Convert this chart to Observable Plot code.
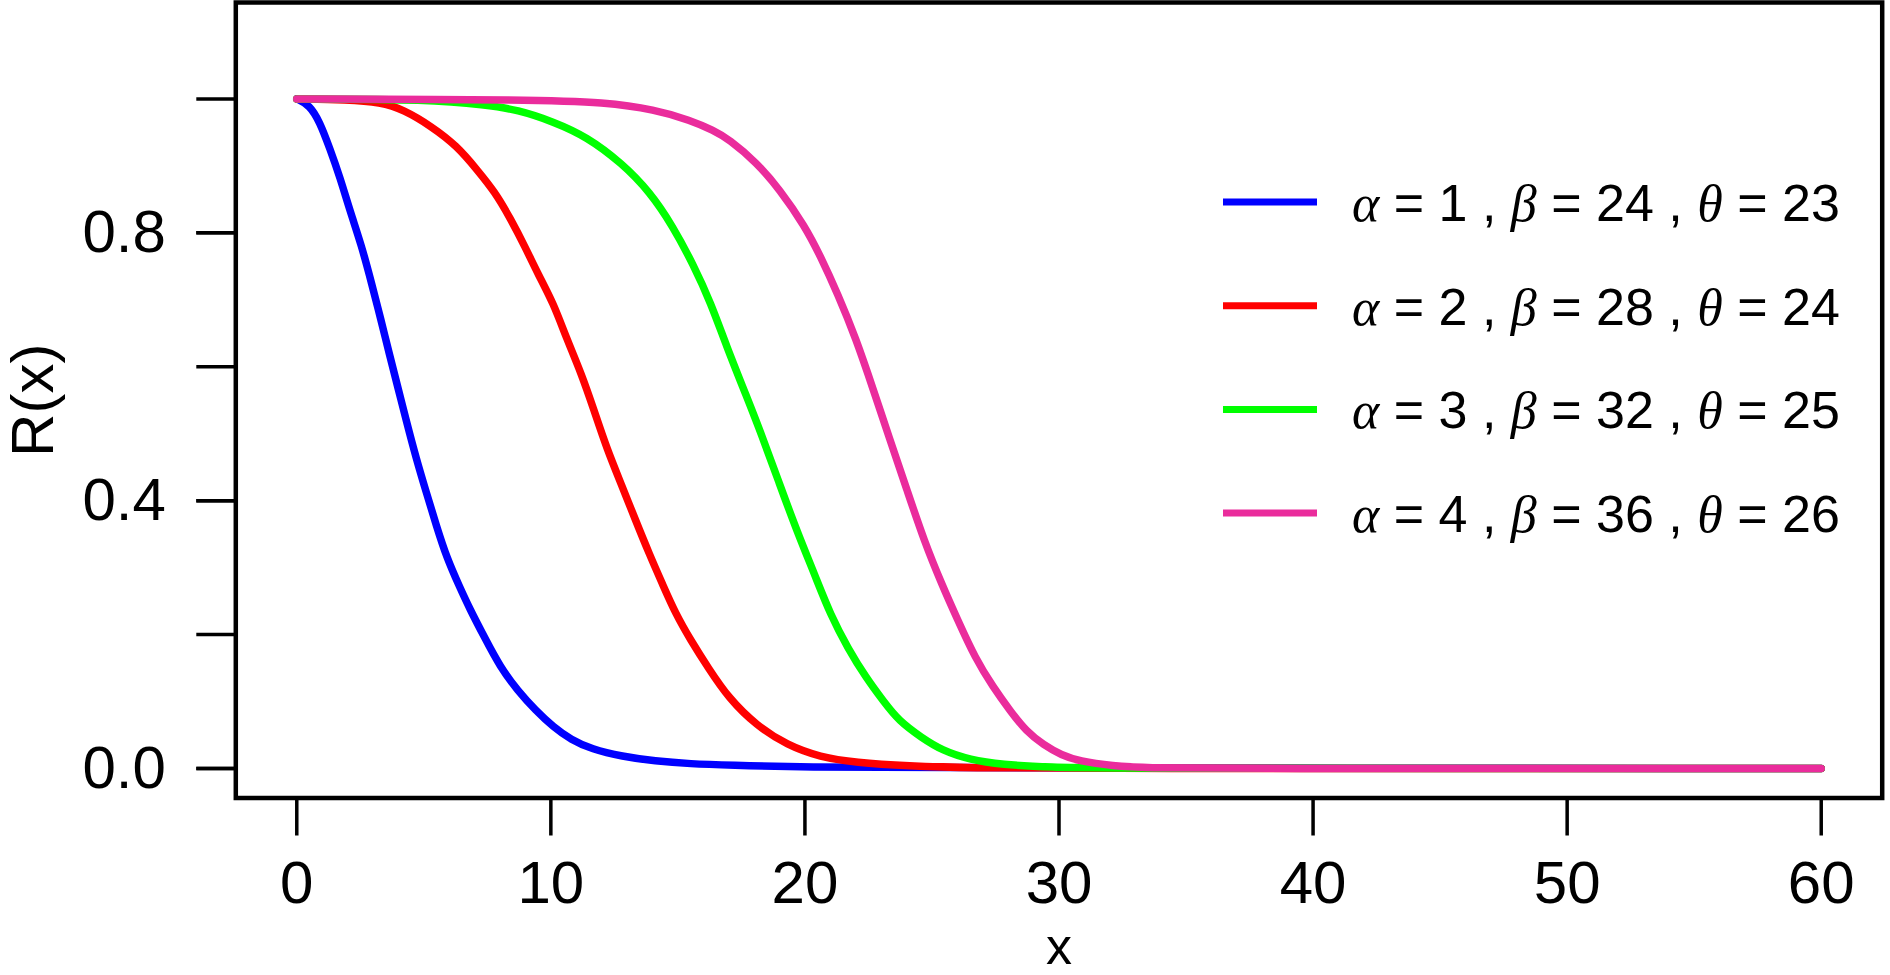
<!DOCTYPE html>
<html>
<head>
<meta charset="utf-8">
<script src="https://cdn.jsdelivr.net/npm/d3@7"></script>
<script src="https://cdn.jsdelivr.net/npm/@observablehq/plot@0.6"></script>
<style>
  html, body { margin: 0; padding: 0; background: #ffffff; }
  #chart { width: 1890px; height: 975px; overflow: hidden; }
</style>
</head>
<body>
<div id="chart"></div>
<script>
// ---- data ----
const xTicks = [0, 10, 20, 30, 40, 50, 60];
const yTicks = [0, 0.2, 0.4, 0.6, 0.8, 1.0];
const yLabelTicks = [0, 0.4, 0.8];

const alphas = [1, 2, 3, 4];
const betas = [24, 28, 32, 36];
const thetas = [23, 24, 25, 26];
const seriesColors = ["#0000FF", "#FF0000", "#00FF00", "#EA2C9C"];

const blueX = [0, 0.5, 0.9, 1.3, 1.7, 2.1, 2.55, 2.95, 3.3, 3.65, 4.0, 4.3, 4.7, 5.1, 5.5, 5.9, 6.4, 6.8, 7.4, 8.0, 8.7, 9.4, 10.1, 10.8, 11.6, 12.8, 14.1, 15.5, 17, 20, 25, 60];
const blueR = [1, 0.991, 0.966, 0.926, 0.883, 0.832, 0.781, 0.724, 0.672, 0.618, 0.566, 0.521, 0.463, 0.412, 0.362, 0.315, 0.272, 0.239, 0.195, 0.152, 0.116, 0.087, 0.062, 0.043, 0.029, 0.018, 0.011, 0.007, 0.005, 0.002, 0.001, 0];

const redX = [0, 2, 3.3, 4.2, 5.3, 6.3, 7.1, 7.8, 8.4, 9.0, 9.5, 10.1, 10.6, 11.2, 11.7, 12.2, 12.8, 13.3, 13.9, 14.4, 14.9, 15.5, 16.2, 17.0, 18.1, 19.3, 20.6, 22.0, 24.0, 26.7, 30, 60];
const redR = [1, 0.999, 0.995, 0.984, 0.959, 0.930, 0.894, 0.861, 0.822, 0.778, 0.738, 0.695, 0.644, 0.590, 0.535, 0.478, 0.422, 0.374, 0.318, 0.275, 0.232, 0.192, 0.150, 0.105, 0.064, 0.035, 0.017, 0.009, 0.004, 0.001, 0, 0];

const greenX = [0, 5.3, 7.4, 8.7, 10.1, 11.4, 12.8, 13.9, 14.8, 15.6, 16.3, 16.9, 17.7, 18.3, 19.0, 19.7, 20.4, 21.0, 21.7, 22.4, 23.1, 23.7, 24.6, 25.4, 26.5, 27.8, 29.4, 33, 60];
const greenR = [1, 0.999, 0.991, 0.984, 0.966, 0.944, 0.904, 0.861, 0.810, 0.753, 0.695, 0.632, 0.556, 0.498, 0.425, 0.353, 0.288, 0.230, 0.179, 0.136, 0.100, 0.071, 0.046, 0.027, 0.013, 0.006, 0.002, 0, 0];

const pinkX = [0, 9.4, 12.1, 14.1, 15.5, 16.4, 17.0, 18.1, 19.0, 20.0, 20.6, 21.3, 22.0, 22.7, 23.3, 24.0, 24.7, 25.4, 26.0, 26.7, 27.4, 28.1, 28.7, 29.4, 30.1, 30.8, 32.1, 33.5, 36, 60];
const pinkR = [1, 0.999, 0.995, 0.984, 0.968, 0.953, 0.940, 0.905, 0.865, 0.810, 0.766, 0.708, 0.643, 0.565, 0.496, 0.418, 0.339, 0.274, 0.223, 0.165, 0.122, 0.085, 0.056, 0.035, 0.020, 0.011, 0.004, 0.001, 0, 0];

// ---- build tables for the library ----
const seriesXs = [blueX, redX, greenX, pinkX];
const seriesRs = [blueR, redR, greenR, pinkR];
const tables = seriesXs.map((xs, s) => xs.map((x, i) => ({x, r: seriesRs[s][i]})));

const lineMarks = tables.map((t, s) =>
  Plot.line(t, {x: "x", y: "r", stroke: seriesColors[s], strokeWidth: 7.5, curve: "basis"})
);

const svg = Plot.plot({
  width: 1890,
  height: 975,
  marginLeft: 235.3,
  marginRight: 8.3,
  marginTop: 2,
  marginBottom: 177.5,
  x: {domain: [-2.4, 62.4]},
  y: {domain: [-0.044, 1.144]},
  style: {fontFamily: "'Liberation Sans', Arial, Helvetica, sans-serif", fontSize: "60px", color: "black", background: "white"},
  marks: [
    Plot.frame({stroke: "black", strokeWidth: 4.5}),
    ...lineMarks,
    Plot.axisX({ticks: xTicks, tickSize: 38, tickPadding: 24, strokeWidth: 3.5, fontSize: 60, label: null, tickFormat: d3.format("d")}),
    Plot.axisY({ticks: yTicks, tickSize: 39, tickPadding: 31, strokeWidth: 3.5, label: null, tickFormat: () => ""}),
    Plot.axisY({ticks: yLabelTicks, tickSize: 39, tickPadding: 31, strokeWidth: 3.5, fontSize: 60, label: null, tickFormat: d3.format(".1f")}),
    Plot.text(["R(x)"], {frameAnchor: "left", dx: -202, rotate: -90, fontSize: 60, textAnchor: "middle", lineAnchor: "middle", fill: "black"}),
    Plot.text(["x"], {frameAnchor: "bottom", dy: 129, fontSize: 52, textAnchor: "middle", lineAnchor: "top", fill: "black"})
  ]
});

// ---- legend inside the plot area (real text) ----
const root = d3.select(svg);
const leg = root.append("g").attr("class", "legend").attr("text-anchor", "start");
alphas.forEach((a, i) => {
  const yRow = 202 + i * 103.7;
  leg.append("line")
    .attr("x1", 1223).attr("x2", 1317)
    .attr("y1", yRow).attr("y2", yRow)
    .attr("stroke", seriesColors[i]).attr("stroke-width", 7);
  const t = leg.append("text")
    .attr("x", 1352).attr("y", yRow + 19)
    .attr("text-anchor", "start")
    .attr("font-size", 52)
    .attr("font-family", "'Liberation Sans', Arial, sans-serif")
    .attr("fill", "black");
  const greek = (s) => t.append("tspan").attr("font-style", "italic").attr("font-family", "'Liberation Serif', 'DejaVu Serif', serif").text(s);
  const plain = (s) => t.append("tspan").text(s);
  greek("α"); plain(" = " + a + " , ");
  greek("β"); plain(" = " + betas[i] + " , ");
  greek("θ"); plain(" = " + thetas[i]);
});

document.getElementById("chart").appendChild(svg);
</script>
</body>
</html>
